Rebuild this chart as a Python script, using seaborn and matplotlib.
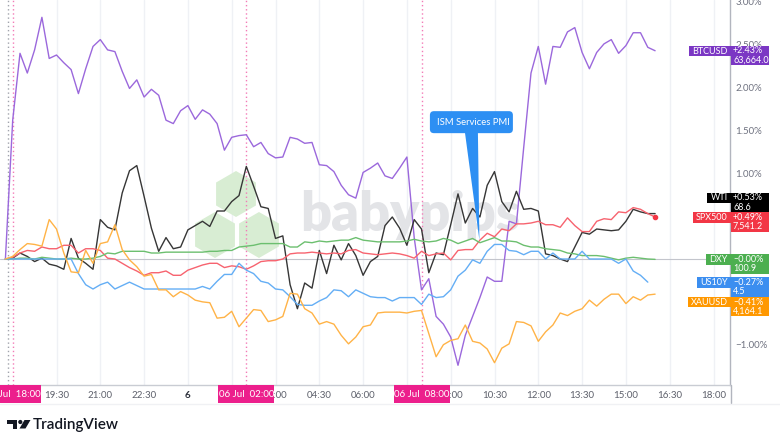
import numpy as np
import pandas as pd
import matplotlib
matplotlib.use("Agg")
import matplotlib.pyplot as plt
import seaborn as sns
from matplotlib.patches import Rectangle, FancyBboxPatch, Polygon, RegularPolygon, Circle
from matplotlib.transforms import IdentityTransform

# ---------------- data (percent change vs first bar, 15-min bars from 05 Jul 17:45) ----------------
symbols = ["BTCUSD", "WTI", "SPX500", "DXY", "US10Y", "XAUUSD"]

btcusd = [0.00, 1.62, 2.40, 2.17, 2.44, 2.82, 2.34, 2.38, 2.29, 2.21,
          1.93, 2.22, 2.48, 2.56, 2.44, 2.42, 2.19, 1.99, 2.09, 1.89,
          1.98, 1.91, 1.62, 1.58, 1.73, 1.79, 1.63, 1.74, 1.69, 1.58,
          1.27, 1.42, 1.44, 1.45, 1.31, 1.36, 1.23, 1.18, 1.19, 1.42,
          1.40, 1.35, 1.36, 1.10, 1.09, 1.02, 0.86, 0.75, 0.71, 1.01,
          1.06, 1.12, 0.97, 0.94, 1.06, 1.19, 0.25, -0.36, -0.23, -0.67,
          -0.76, -0.91, -1.24, -0.89, -0.67, -0.45, -0.21, -0.26, -0.26, 0.44,
          0.41, 1.30, 2.17, 2.48, 2.04, 2.48, 2.47, 2.65, 2.70, 2.41,
          2.22, 2.41, 2.51, 2.56, 2.40, 2.49, 2.64, 2.64, 2.47, 2.43]

wti = [0.00, 0.01, 0.07, 0.03, -0.03, 0.01, -0.06, -0.08, -0.12, 0.24,
       0.01, -0.05, -0.12, 0.46, 0.37, 0.34, 0.77, 1.03, 1.09, 0.73,
       0.36, 0.09, 0.25, 0.12, 0.14, 0.34, 0.39, 0.44, 0.38, 0.56,
       0.56, 0.67, 0.74, 1.08, 0.85, 0.61, 0.59, 0.24, 0.27, -0.30,
       -0.58, -0.28, -0.34, 0.10, -0.17, 0.16, -0.01, 0.18, 0.04, -0.19,
       -0.03, 0.03, 0.39, 0.49, 0.36, 0.16, 0.46, 0.35, -0.16, 0.07,
       0.05, 0.40, 0.76, 0.42, 0.59, 0.49, 0.86, 1.02, 0.67, 0.55,
       0.79, 0.58, 0.59, 0.56, 0.06, 0.04, 0.00, -0.03, 0.14, 0.31,
       0.29, 0.35, 0.34, 0.33, 0.34, 0.44, 0.58, 0.55, 0.53, 0.53]

spx500 = [0.00, 0.02, 0.07, 0.10, 0.09, 0.14, 0.12, 0.12, 0.16, 0.16,
          0.07, 0.12, 0.12, 0.10, 0.01, 0.00, -0.05, -0.10, -0.14, -0.19,
          -0.16, -0.16, -0.14, -0.19, -0.19, -0.13, -0.10, -0.07, -0.05, -0.05,
          -0.10, -0.08, -0.09, -0.12, -0.08, -0.03, -0.02, -0.02, 0.00, 0.06,
          0.07, 0.07, 0.08, 0.07, 0.06, 0.07, 0.06, 0.10, 0.11, 0.07,
          0.06, 0.05, 0.06, 0.07, 0.06, 0.04, 0.01, 0.09, 0.04, 0.06,
          0.07, -0.01, 0.10, 0.11, 0.11, 0.22, 0.30, 0.26, 0.35, 0.33,
          0.41, 0.41, 0.42, 0.44, 0.40, 0.40, 0.37, 0.48, 0.39, 0.32,
          0.32, 0.44, 0.47, 0.46, 0.55, 0.54, 0.60, 0.58, 0.53, 0.49]

dxy = [0.00, 0.00, 0.01, 0.01, 0.00, 0.02, 0.01, 0.00, 0.00, 0.01,
       0.00, 0.00, 0.01, 0.03, 0.07, 0.06, 0.09, 0.09, 0.09, 0.09,
       0.07, 0.07, 0.08, 0.08, 0.08, 0.08, 0.08, 0.08, 0.09, 0.09,
       0.10, 0.10, 0.14, 0.15, 0.16, 0.18, 0.18, 0.18, 0.18, 0.14,
       0.14, 0.20, 0.19, 0.21, 0.20, 0.21, 0.22, 0.22, 0.25, 0.22,
       0.21, 0.20, 0.20, 0.20, 0.20, 0.21, 0.23, 0.21, 0.20, 0.21,
       0.24, 0.22, 0.18, 0.21, 0.24, 0.19, 0.22, 0.25, 0.21, 0.21,
       0.20, 0.16, 0.14, 0.14, 0.12, 0.11, 0.10, 0.07, 0.06, 0.04,
       0.04, 0.04, 0.03, 0.01, -0.01, 0.01, 0.02, 0.01, 0.00, -0.004]

us10y = [0.00, 0.00, 0.00, 0.00, 0.00, 0.00, 0.00, 0.00, 0.00, 0.00,
         -0.17, -0.30, -0.35, -0.30, -0.27, -0.35, -0.31, -0.27, -0.31, -0.35,
         -0.35, -0.35, -0.35, -0.35, -0.35, -0.35, -0.35, -0.32, -0.35, -0.26,
         -0.18, -0.18, -0.05, -0.13, -0.17, -0.26, -0.28, -0.35, -0.36, -0.44,
         -0.53, -0.54, -0.54, -0.49, -0.45, -0.36, -0.37, -0.44, -0.36, -0.40,
         -0.44, -0.45, -0.45, -0.49, -0.45, -0.45, -0.45, -0.53, -0.41, -0.45,
         -0.44, -0.36, -0.20, -0.13, -0.01, -0.05, 0.09, 0.17, 0.17, 0.10,
         0.09, 0.05, 0.09, 0.09, 0.00, 0.07, 0.00, 0.00, 0.00, 0.09,
         0.00, 0.00, 0.00, 0.00, -0.05, 0.00, -0.14, -0.19, -0.27, np.nan]

xauusd = [0.00, 0.03, 0.11, 0.18, 0.17, 0.15, 0.46, 0.35, 0.07, -0.15,
          -0.16, 0.10, -0.05, 0.18, 0.20, 0.40, 0.11, -0.01, -0.09, -0.20,
          -0.18, -0.36, -0.36, -0.44, -0.38, -0.42, -0.48, -0.50, -0.51, -0.69,
          -0.68, -0.61, -0.79, -0.69, -0.59, -0.60, -0.73, -0.71, -0.67, -0.40,
          -0.41, -0.58, -0.63, -0.76, -0.73, -0.76, -0.89, -0.99, -0.91, -0.79,
          -0.77, -0.63, -0.62, -0.62, -0.62, -0.63, -0.61, -0.60, -0.87, -1.14,
          -1.00, -0.95, -0.93, -0.77, -0.96, -0.98, -1.05, -1.21, -1.04, -0.99,
          -0.73, -0.74, -0.78, -0.96, -0.85, -0.77, -0.63, -0.66, -0.61, -0.58,
          -0.48, -0.55, -0.47, -0.41, -0.41, -0.52, -0.44, -0.48, -0.42, -0.41]

last_prices = [63664.0, 68.6, 7541.2, 100.9, 4.5, 4164.1]

bars = np.arange(len(btcusd))          # bar index, 0 = 05 Jul 17:45
grid_bars = [7, 13, 19, 25, 31, 37, 43, 49, 55, 61, 67, 73, 79, 85, 91, 97]
tick_bars = [7, 13, 19, 25, 37, 43, 49, 61, 67, 73, 79, 85, 91, 97]
tick_labels = ["19:30", "21:00", "22:30", "6", "03:00", "04:30", "06:00",
               "09:00", "10:30", "12:00", "13:30", "15:00", "16:30", "18:00"]
event_bars = [1, 33, 57]
event_labels = ["05 Jul  18:00", "06 Jul  02:00", "06 Jul  08:00"]
y_ticks = [3.0, 2.5, 2.0, 1.5, 1.0, -1.0]
annotation_text = "ISM Services PMI"
annotation_bar = 65

# ---------------- style ----------------
line_colors = ["#9b68dc", "#363636", "#f7636f", "#6cbf6f", "#64aef5", "#ffb347"]
box_colors = ["#7b37c4", "#000000", "#f23645", "#4caf50", "#3b8ef0", "#ff9800"]
label_shift_px = {"WTI": -16.0, "XAUUSD": 7.7}
PINK = "#ec1f8c"

sns.set_style("white")
plt.rcParams["font.family"] = ["Lato", "DejaVu Sans"]

W, H = 780, 446
fig = plt.figure(figsize=(W / 100, H / 100), dpi=100)
fig.patch.set_facecolor("white")
ax = fig.add_axes([0, 61 / H, 730 / W, 385 / H])
XLIM = (-0.74, 99.26)
YLIM = (-1.470, 3.022)
ax.set_xlim(*XLIM)
ax.set_ylim(*YLIM)


def P(x, ytop):
    """pixel (from top-left) -> display coords"""
    return (x, H - ytop)


ID = IdentityTransform()

# watermark
for cx, cy in [(236, 194), (215, 235), (259, 235)]:
    ax.add_patch(RegularPolygon(P(cx, cy), numVertices=6, radius=23, orientation=0,
                                transform=ID, facecolor="#d8edd3", edgecolor="none", zorder=0.3))
ax.text(*P(300, 231), "babypips", transform=ID, fontsize=39, fontweight="heavy",
        color="#e3e4e7", ha="left", va="baseline", zorder=0.4, family=["Lato", "DejaVu Sans"])

# lines
series = [btcusd, wti, spx500, dxy, us10y, xauusd]
df = pd.concat([pd.DataFrame({"bar": bars, "pct": s, "symbol": sym})
                for sym, s in zip(symbols, series)], ignore_index=True)
sns.lineplot(data=df, x="bar", y="pct", hue="symbol", hue_order=symbols,
             palette=dict(zip(symbols, line_colors)), estimator=None, sort=False,
             legend=False, linewidth=1.0, ax=ax, zorder=3)
ax.plot([bars[-1]], [spx500[-1]], "o", ms=3, color=box_colors[2], zorder=4)

ax.axhline(0, color="#c3c5cc", lw=0.8, zorder=1)
for b in grid_bars:
    ax.axvline(b, color="#eff1f5", lw=1, zorder=0.2)
for b in event_bars:
    ax.axvline(b, color="#f37bb7", lw=1, ls=(0, (1, 2)), zorder=1)
ax.axvline(0.35, color="#a0a3ab", lw=1, ls=(0, (1, 2)), zorder=1)

ax.set_xlim(*XLIM)
ax.set_ylim(*YLIM)
ax.set_xlabel("")
ax.set_ylabel("")
ax.grid(False)

# x axis
ax.set_xticks(tick_bars)
ax.set_xticklabels(tick_labels, fontsize=7, color="#5d606b")
ax.tick_params(axis="x", length=0, pad=4)
for t in ax.get_xticklabels():
    if t.get_text() == "6":
        t.set_fontweight("bold")
        t.set_color("#2a2e39")

# y axis on the right
ax.yaxis.tick_right()
ax.set_yticks(y_ticks)
ax.set_yticklabels([f"{v:.2f}%".replace("-", "\u2212") for v in y_ticks], fontsize=7, color="#6f7280")
ax.tick_params(axis="y", length=0, pad=4)

for side in ["top", "left"]:
    ax.spines[side].set_visible(False)
ax.spines["right"].set_color("#b2b5be")
ax.spines["bottom"].set_color("#c9ccd3")
ax.spines["right"].set_linewidth(1)
ax.spines["bottom"].set_linewidth(1)

# extra frame lines
fig.add_artist(plt.Line2D([730.5, 730.5], [H - 385, H - 403], transform=ID, color="#b2b5be", lw=1))
fig.add_artist(plt.Line2D([0, 780], [H - 403.5, H - 403.5], transform=ID, color="#f0f1f4", lw=1))

# event labels on x axis
for b, lab in zip(event_bars, event_labels):
    cx, _ = ax.transData.transform((b, 0))
    fig.add_artist(Rectangle(P(cx - 28, 403), 56, 18, transform=ID, facecolor=PINK,
                             edgecolor="none", zorder=5))
    fig.text(*P(cx, 394.5), lab, transform=ID, ha="center", va="center", fontsize=7,
             color="white", zorder=6)

# right-side price labels
renderer = fig.canvas.get_renderer()
for sym, s, price, bc in zip(symbols, series, last_prices, box_colors):
    arr = np.array(s, dtype=float)
    last = arr[~np.isnan(arr)][-1]
    _, yd = ax.transData.transform((0, last))
    top = (H - yd) - 5 + label_shift_px.get(sym, 0.0)
    fig.add_artist(Rectangle(P(730.5, top + 19.5), 38.5, 19.5, transform=ID,
                             facecolor=bc, edgecolor="none", zorder=5))
    pct_txt = f"{last:+.2f}%".replace("-", "\u2212")
    fig.text(*P(733, top + 5.2), pct_txt, transform=ID, ha="left", va="center",
             fontsize=6.5, color="white", zorder=6)
    fig.text(*P(733, top + 14.6), f"{price:,.1f}", transform=ID, ha="left", va="center",
             fontsize=6.5, color="white", zorder=6)
    nt = fig.text(*P(727.5, top + 5.3), sym, transform=ID, ha="right", va="center",
                  fontsize=6.5, color="white", zorder=6)
    w = nt.get_window_extent(renderer).width
    fig.add_artist(Rectangle(P(727.5 - w - 3, top + 10.5), w + 6, 10.5, transform=ID,
                             facecolor=bc, edgecolor="none", zorder=5))

# ISM Services PMI callout pointing at SPX500 bar
tx, ty = ax.transData.transform((annotation_bar, spx500[annotation_bar]))
tip_top = H - ty
box_l, box_r = tx - 50, tx + 33
box_t, box_b = tip_top - 129, tip_top - 107
fig.add_artist(FancyBboxPatch(P(box_l, box_b), box_r - box_l, box_b - box_t,
                              boxstyle="round,pad=0,rounding_size=4", transform=ID,
                              facecolor="#2d8ff3", edgecolor="none", zorder=5))
fig.add_artist(Polygon([P(tx - 15, box_b - 1), P(tx - 2, box_b - 1), P(tx - 0.5, tip_top)],
                       closed=True, transform=ID, facecolor="#2d8ff3", edgecolor="none", zorder=5))
fig.text(*P(box_l + 7, (box_t + box_b) / 2), annotation_text, transform=ID, ha="left",
         va="center", fontsize=6.8, color="white", zorder=6)

# TradingView logo
LOGO = "#131722"
fig.add_artist(Polygon([P(7, 420), P(17, 420), P(17, 428.5), P(12.5, 428.5), P(12.5, 424), P(7, 424)],
                       closed=True, transform=ID, facecolor=LOGO, edgecolor="none"))
fig.add_artist(Circle(P(20.3, 422), 2.1, transform=ID, facecolor=LOGO, edgecolor="none"))
fig.add_artist(Polygon([P(24.5, 420), P(30.5, 420), P(25.5, 428.5), P(19.5, 428.5)],
                       closed=True, transform=ID, facecolor=LOGO, edgecolor="none"))
fig.text(*P(33, 425), "TradingView", transform=ID, ha="left", va="center", fontsize=11,
         fontweight="semibold", color=LOGO)

fig.savefig("out.png", dpi=100, facecolor="white")
